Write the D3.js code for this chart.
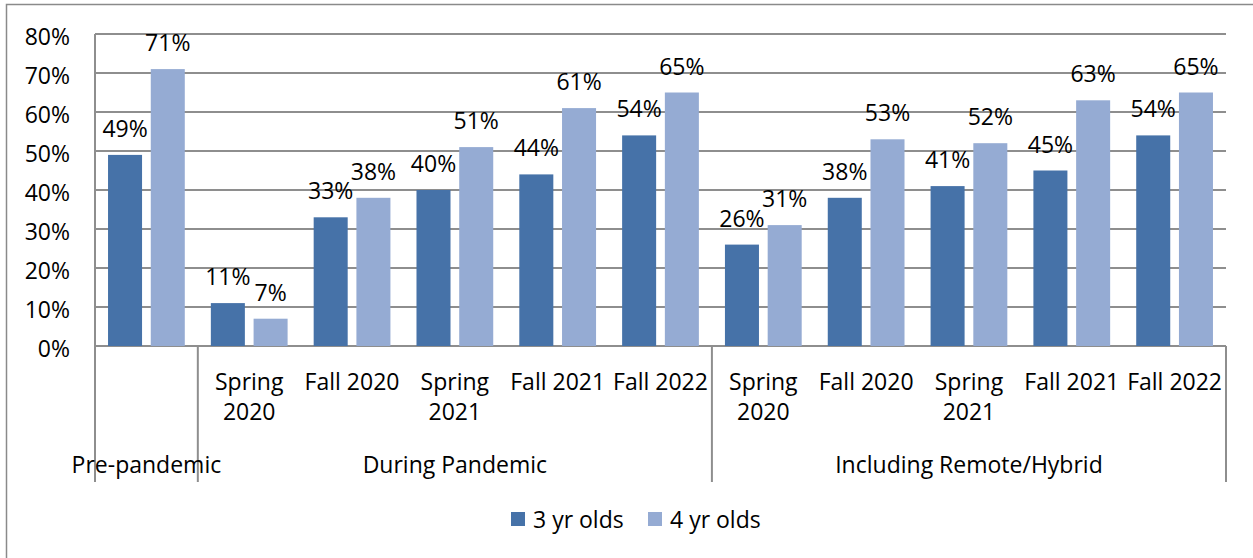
<html>
    <head>
        <meta charset='UTF-8'>
        <script src="https://d3js.org/d3.v7.min.js"></script>
        <style>
            body { margin: 0; background: #ffffff; }
            text { font-family: "Open Sans", sans-serif; fill: #000; }
        </style>
    </head>
    <body>
        <svg id="chart" width="1253" height="558"></svg>
        <script>
            // chart data
            const periods = ['Pre-pandemic', 'Spring 2020', 'Fall 2020', 'Spring 2021', 'Fall 2021', 'Fall 2022',
                             'Spring 2020', 'Fall 2020', 'Spring 2021', 'Fall 2021', 'Fall 2022']
            const periodLines = [[], ['Spring', '2020'], ['Fall 2020'], ['Spring', '2021'], ['Fall 2021'], ['Fall 2022'],
                                 ['Spring', '2020'], ['Fall 2020'], ['Spring', '2021'], ['Fall 2021'], ['Fall 2022']]
            const threeYr = [49, 11, 33, 40, 44, 54, 26, 38, 41, 45, 54]
            const fourYr = [71, 7, 38, 51, 61, 65, 31, 53, 52, 63, 65]
            const seriesNames = ['3 yr olds', '4 yr olds']
            const seriesColors = ['#4672a8', '#95abd3']
            // outer groups: label, first index, last index
            const groups = [['Pre-pandemic', 0, 0], ['During Pandemic', 1, 5], ['Including Remote/Hybrid', 6, 10]]
            const yTicks = [0, 10, 20, 30, 40, 50, 60, 70, 80]

            const svg = d3.select('svg#chart')
            const plotL = 95, plotR = 1226, plotT = 34, plotB = 346
            const gridColor = '#8e8e8e'
            const fs = '23px'

            // outer frame of the chart
            svg.append('rect')
               .attr('x', 6.5).attr('y', 4.5)
               .attr('width', 1270).attr('height', 600)
               .attr('fill', 'none').attr('stroke', '#8a8a8a').attr('stroke-width', 1.5)

            const x = d3.scaleBand().domain(d3.range(periods.length)).range([plotL, plotR])
            const xs = d3.scaleBand().domain([0, 1]).range([0, x.bandwidth()])
                         .paddingInner(0.204).paddingOuter(0.305)
            const y = d3.scaleLinear().domain([0, 80]).range([plotB, plotT])

            // gridlines
            svg.append('g').selectAll('line').data(yTicks).join('line')
               .attr('x1', plotL).attr('x2', plotR)
               .attr('y1', d => y(d)).attr('y2', d => y(d))
               .attr('stroke', gridColor).attr('stroke-width', 2)

            // y labels
            svg.append('g').selectAll('text').data(yTicks).join('text')
               .attr('x', 70).attr('y', d => y(d) + 2)
               .attr('text-anchor', 'end').attr('dominant-baseline', 'central')
               .style('font-size', fs)
               .text(d => d + '%')

            // bars
            const data = threeYr.map((v, i) => ({i: i, vals: [v, fourYr[i]]}))
            const g = svg.append('g').selectAll('g').data(data).join('g')
                         .attr('transform', d => `translate(${x(d.i)},0)`)
            g.selectAll('rect').data(d => d.vals).join('rect')
             .attr('x', (v, s) => xs(s)).attr('width', xs.bandwidth())
             .attr('y', v => y(v)).attr('height', v => plotB - y(v))
             .attr('fill', (v, s) => seriesColors[s])
            g.selectAll('text').data(d => d.vals).join('text')
             .attr('x', (v, s) => xs(s) + xs.bandwidth() / 2)
             .attr('y', v => y(v) - 18)
             .attr('text-anchor', 'middle')
             .style('font-size', fs)
             .text(v => v + '%')

            // axis lines: left axis runs down through the label area
            svg.append('line').attr('x1', plotL).attr('x2', plotL).attr('y1', plotT).attr('y2', 482)
               .attr('stroke', gridColor).attr('stroke-width', 2)
            const seps = [x(1), x(6), plotR]
            svg.append('g').selectAll('line').data(seps).join('line')
               .attr('x1', d => d).attr('x2', d => d).attr('y1', plotB).attr('y2', 482)
               .attr('stroke', gridColor).attr('stroke-width', 2)

            // category labels
            svg.append('g').selectAll('text').data(periodLines).join('text')
               .attr('x', (d, i) => x(i) + x.bandwidth() / 2)
               .attr('y', 390)
               .attr('text-anchor', 'middle')
               .style('font-size', fs)
               .selectAll('tspan').data(d => d).join('tspan')
               .attr('x', function() { return this.parentNode.getAttribute('x') })
               .attr('dy', (d, k) => k === 0 ? 0 : 30)
               .text(d => d)

            // group labels
            svg.append('g').selectAll('text').data(groups).join('text')
               .attr('x', d => (x(d[1]) + x(d[2]) + x.bandwidth()) / 2)
               .attr('y', 473)
               .attr('text-anchor', 'middle')
               .style('font-size', fs)
               .text(d => d[0])

            // legend
            const legendX = [511, 648]
            const lg = svg.append('g').selectAll('g').data(seriesNames).join('g')
                          .attr('transform', (d, i) => `translate(${legendX[i]},512)`)
            lg.append('rect').attr('width', 14).attr('height', 14)
              .attr('fill', (d, i) => seriesColors[i])
            lg.append('text').attr('x', 22).attr('y', 7).attr('dominant-baseline', 'central')
              .style('font-size', fs)
              .text(d => d)
        </script>
    </body>
</html>
